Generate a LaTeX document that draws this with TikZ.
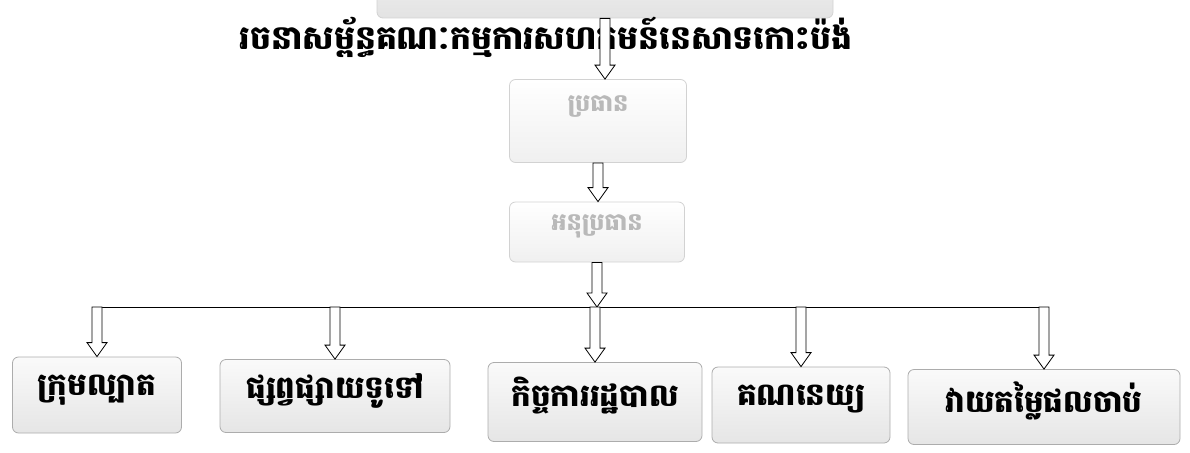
\documentclass[tikz,border=0pt]{standalone}
\usepackage{fontspec}
\newfontfamily\khmer[Script=Khmer]{Battambang}
\usetikzlibrary{calc}

\tikzset{
  box/.style={draw=gray!65, line width=0.8pt, rounded corners=6pt,
    top color=gray!4, bottom color=gray!20, text depth=20pt,
    font=\khmer\bfseries\fontsize{31}{35}\selectfont},
  topbox/.style={box, draw=gray!35, text=gray!55, top color=white, bottom color=gray!12,
    font=\khmer\bfseries\fontsize{24}{28}\selectfont},
  harrow/.style={draw, fill=white, line width=0.8pt,
    to path={let \p1=(\tikztostart), \p2=(\tikztotarget) in
      (\x1-5pt,\y1) -- (\x1-5pt,\y2+14pt) -- (\x1-10pt,\y2+14pt) -- (\x1,\y2)
      -- (\x1+10pt,\y2+14pt) -- (\x1+5pt,\y2+14pt) -- (\x1+5pt,\y1) -- cycle}}
}

\begin{document}
\begin{tikzpicture}[x=1pt, y=-1pt]
  \useasboundingbox (0,0) rectangle (1190,452);
  % committee box, cut off at the top
  \node[topbox, top color=gray!10, bottom color=gray!22, minimum width=456, minimum height=60] (cmte) at (605,-12) {};
  \node[font=\khmer\bfseries\fontsize{33}{38}\selectfont] (title) at (546,37)
    {រចនាសម្ព័ន្ធគណៈកម្មការសហគមន៍នេសាទកោះប៉ង់};
  \node[topbox, text depth=34pt, minimum width=177, minimum height=83] (pres) at (598,121) {ប្រធាន};
  \node[topbox, text depth=18pt, minimum width=175, minimum height=60] (vice) at (597,232) {អនុប្រធាន};
  \coordinate (bus) at (0,307);
  % sections
  \node[box, minimum width=169, minimum height=76] (patrol) at (97,395) {ក្រុមល្បាត};
  \node[box, minimum width=230, minimum height=73] (info) at (335,396) {ផ្សព្វផ្សាយទូទៅ};
  \node[box, minimum width=214, minimum height=79] (admin) at (595,402) {កិច្ចការរដ្ឋបាល};
  \node[box, minimum width=178, minimum height=76] (acct) at (801,405) {គណនេយ្យ};
  \node[box, minimum width=272, minimum height=75] (catch) at (1044,407) {វាយតម្លៃផលចាប់};

  \draw[line width=0.8pt] (patrol.north |- bus) -- (catch.north |- bus);
  \draw[harrow] (cmte.south) to (pres.north);
  \draw[harrow] (pres.south) to (vice.north);
  \draw[harrow] (vice.south) to (vice.south |- bus);
  \foreach \sec in {patrol,info,admin,acct,catch}
    \draw[harrow] (\sec.north |- bus) to (\sec.north);
\end{tikzpicture}
\end{document}
